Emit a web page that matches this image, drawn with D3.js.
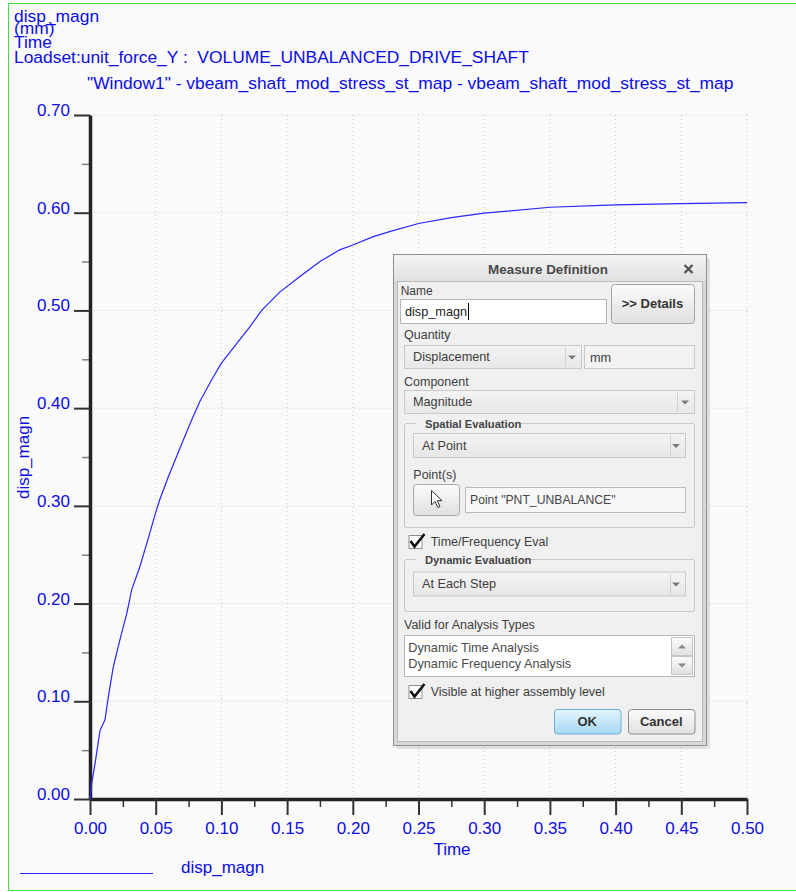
<!DOCTYPE html>
<html>
<head>
<meta charset="utf-8">
<script src="https://cdn.jsdelivr.net/npm/d3@7"></script>
<style>
    body { margin: 0; background: #ffffff; }
    svg text { font-family: "Liberation Sans", Arial, sans-serif; }
</style>
</head>
<body>
<div id="chart"></div>
<script>
// values
const timeValues = [0, 0.0013, 0.0038, 0.0076, 0.0114, 0.014, 0.0177, 0.0228, 0.028, 0.0317, 0.038,
    0.0444, 0.0495, 0.053, 0.06, 0.07, 0.078, 0.0837, 0.0926, 0.100, 0.1116, 0.1218, 0.1306,
    0.1446, 0.160, 0.175, 0.190, 0.200, 0.2156, 0.228, 0.25, 0.275, 0.30, 0.35, 0.40, 0.45, 0.50];
const dispValues = [0, 0.016, 0.036, 0.070, 0.081, 0.105, 0.135, 0.163, 0.190, 0.214, 0.238,
    0.267, 0.291, 0.306, 0.331, 0.364, 0.390, 0.407, 0.429, 0.446, 0.466, 0.4835, 0.500,
    0.519, 0.535, 0.550, 0.562, 0.567, 0.5755, 0.5806, 0.589, 0.595, 0.5995, 0.6056, 0.608, 0.6094, 0.6104];

const xTicks = [0.00, 0.05, 0.10, 0.15, 0.20, 0.25, 0.30, 0.35, 0.40, 0.45, 0.50];
const xMinorTicks = [0.025, 0.075, 0.125, 0.175, 0.225, 0.275, 0.325, 0.375, 0.425, 0.475];
const yTicks = [0.00, 0.10, 0.20, 0.30, 0.40, 0.50, 0.60, 0.70];
const yMinorTicks = [0.05, 0.15, 0.25, 0.35, 0.45, 0.55, 0.65];

const headerLines = ["disp_magn", "(mm)", "Time", "Loadset:unit_force_Y :  VOLUME_UNBALANCED_DRIVE_SHAFT"];
const plotTitle = "\"Window1\" - vbeam_shaft_mod_stress_st_map - vbeam_shaft_mod_stress_st_map";
const seriesName = "disp_magn";
const xLabel = "Time";
const yLabel = "disp_magn";

const blue = "#0c0ce6";
const W = 796, H = 892;

const svg = d3.select("#chart").append("svg")
    .attr("width", W)
    .attr("height", H);

const defs = svg.append("defs");
function grad(id, top, bottom) {
    let g = defs.append("linearGradient").attr("id", id)
        .attr("x1", 0).attr("y1", 0).attr("x2", 0).attr("y2", 1);
    g.append("stop").attr("offset", "0%").attr("stop-color", top);
    g.append("stop").attr("offset", "100%").attr("stop-color", bottom);
}
grad("gTitle", "#f5f5f5", "#e0e0e0");
grad("gBtn", "#fbfbfb", "#e0e0e0");
grad("gOk", "#e4f5fd", "#a6d7f4");
grad("gDrop", "#f4f4f4", "#e7e7e7");

// frame
svg.append("rect")
    .attr("x", 8.5).attr("y", 3.5)
    .attr("width", 820).attr("height", 887)
    .attr("fill", "#fafafa")
    .attr("stroke", "#44dd44");

// header text (lines overlap like the original)
svg.append("g").selectAll("text")
    .data(headerLines)
    .join("text")
    .attr("x", 14)
    .attr("y", (d, i) => [21.5, 34, 48, 62.5][i])
    .attr("fill", blue)
    .attr("font-size", 17.4)
    .style("white-space", "pre")
    .text(d => d);

svg.append("text")
    .attr("x", 87).attr("y", 88.5)
    .attr("fill", blue)
    .attr("font-size", 17.4)
    .text(plotTitle);

// scales
const x = d3.scaleLinear().domain([0, 0.5]).range([90, 747]);
const y = d3.scaleLinear().domain([0, 0.7]).range([799, 115]);

// grid
const grid = svg.append("g").attr("stroke", "#c9c9c9").attr("stroke-dasharray", "1,3");
grid.selectAll(".vg").data(xTicks.slice(1)).join("line")
    .attr("x1", d => x(d)).attr("x2", d => x(d))
    .attr("y1", y(0.7)).attr("y2", y(0));
grid.selectAll(".hg").data(yTicks.slice(1)).join("line")
    .attr("x1", x(0)).attr("x2", x(0.5))
    .attr("y1", d => y(d)).attr("y2", d => y(d));

// minor ticks
svg.append("g")
    .attr("transform", "translate(" + x(0) + ",0)")
    .call(d3.axisLeft(y).tickValues(yMinorTicks).tickSize(8).tickFormat(""))
    .call(g => g.select(".domain").remove())
    .call(g => g.selectAll("line").attr("stroke", "#808080").attr("stroke-width", 1.5));
svg.append("g")
    .attr("transform", "translate(0," + y(0) + ")")
    .call(d3.axisBottom(x).tickValues(xMinorTicks).tickSize(8).tickFormat(""))
    .call(g => g.select(".domain").remove())
    .call(g => g.selectAll("line").attr("stroke", "#333").attr("stroke-width", 1.5));

// major axes
const yAxis = svg.append("g")
    .attr("transform", "translate(" + x(0) + ",0)")
    .call(d3.axisLeft(y).tickValues(yTicks).tickSize(16).tickSizeOuter(0).tickPadding(4).tickFormat(d3.format(".2f")));
const xAxis = svg.append("g")
    .attr("transform", "translate(0," + y(0) + ")")
    .call(d3.axisBottom(x).tickValues(xTicks).tickSize(16).tickSizeOuter(0).tickPadding(7).tickFormat(d3.format(".2f")));

[yAxis, xAxis].forEach(a => {
    a.select(".domain").attr("stroke", "#222").attr("stroke-width", 3.5);
    a.selectAll(".tick line").attr("stroke", "#333").attr("stroke-width", 2);
    a.selectAll(".tick text")
        .attr("fill", blue)
        .attr("font-size", 17)
        .attr("font-family", "Liberation Sans, Arial, sans-serif");
});
yAxis.selectAll(".tick text").attr("dy", "0.03em");

// axis titles
svg.append("text")
    .attr("x", 452).attr("y", 855)
    .attr("text-anchor", "middle")
    .attr("fill", blue).attr("font-size", 17)
    .text(xLabel);
svg.append("text")
    .attr("transform", "translate(29,457.5) rotate(-90)")
    .attr("text-anchor", "middle")
    .attr("fill", blue).attr("font-size", 17)
    .text(yLabel);

// curve
const points = timeValues.map((t, i) => ({t: t, v: dispValues[i]}));
svg.append("path")
    .datum(points)
    .attr("fill", "none")
    .attr("stroke", "#2626ff")
    .attr("stroke-width", 1.2)
    .attr("d", d3.line().x(d => x(d.t)).y(d => y(d.v)));

// legend
svg.append("line")
    .attr("x1", 20).attr("x2", 153)
    .attr("y1", 873.5).attr("y2", 873.5)
    .attr("stroke", "#2626ff").attr("stroke-width", 1.2);
svg.append("text")
    .attr("x", 181).attr("y", 873)
    .attr("fill", blue).attr("font-size", 17)
    .text(seriesName);

/* ---------- Measure Definition dialog ---------- */
const dlg = svg.append("g");
const txtCol = "#3d3d3d";

function rect(x0, y0, w, h, fill, stroke, rx) {
    return dlg.append("rect")
        .attr("x", x0).attr("y", y0).attr("width", w).attr("height", h)
        .attr("rx", rx || 0)
        .attr("fill", fill).attr("stroke", stroke || "none");
}
function label(x0, yc, txt, size, bold, col) {
    return dlg.append("text")
        .attr("x", x0).attr("y", yc).attr("dy", "0.35em")
        .attr("font-size", size || 12.5)
        .attr("font-weight", bold ? "bold" : "normal")
        .attr("fill", col || txtCol)
        .text(txt);
}
function arrowDown(cx, cy) {
    dlg.append("path")
        .attr("d", "M" + (cx - 4) + "," + (cy - 2) + "L" + (cx + 4) + "," + (cy - 2) + "L" + cx + "," + (cy + 2) + "Z")
        .attr("fill", "#7a7a7a");
}
function dropdown(x0, y0, w, h, txt, sepX) {
    rect(x0 + 0.5, y0 + 0.5, w, h, "url(#gDrop)", "#c9c9c9");
    label(x0 + 9, y0 + h / 2 + 0.5, txt, 12.7);
    if (sepX) {
        dlg.append("line").attr("x1", sepX).attr("x2", sepX)
            .attr("y1", y0 + 2).attr("y2", y0 + h - 1).attr("stroke", "#d2d2d2");
    }
    arrowDown(x0 + w - 9, y0 + h / 2 + 1);
}
function checkbox(x0, y0) {
    rect(x0 + 0.5, y0 + 0.5, 13, 13, "#ffffff", "#8e8f8f");
    dlg.append("path")
        .attr("d", "M" + (x0 + 2) + "," + (y0 + 6) + "L" + (x0 + 6) + "," + (y0 + 11.5) + "L" + (x0 + 16) + "," + (y0 - 1))
        .attr("fill", "none").attr("stroke", "#111").attr("stroke-width", 2.6);
}
function button(x0, y0, w, h, txt, fill, stroke) {
    rect(x0 + 0.5, y0 + 0.5, w, h, fill, stroke, 3);
    dlg.append("text")
        .attr("x", x0 + w / 2).attr("y", y0 + h / 2).attr("dy", "0.35em")
        .attr("text-anchor", "middle")
        .attr("font-size", 13).attr("font-weight", "bold")
        .attr("fill", "#333")
        .text(txt);
}
function groupBox(x0, y0, w, h, txt, txtW) {
    rect(x0 + 0.5, y0 + 0.5, w, h, "none", "#c6c6c6", 2);
    rect(x0 + 12, y0 - 6, txtW, 12, "#f0f0f0");
    label(x0 + 21, y0 + 1, txt, 11.2, true, "#444");
}

// shadow + outer frame
rect(396, 258, 314, 491, "rgba(0,0,0,0.10)", "none", 2);
rect(393.5, 254.5, 313, 491, "#d8d8d8", "#8f8f8f");
rect(394, 255, 312, 26, "url(#gTitle)");
dlg.append("text")
    .attr("x", 548).attr("y", 269).attr("dy", "0.35em")
    .attr("text-anchor", "middle")
    .attr("font-size", 13.4).attr("font-weight", "bold")
    .attr("fill", "#4a4a4a")
    .text("Measure Definition");
dlg.append("path")
    .attr("d", "M684.5,265L692.5,273M692.5,265L684.5,273")
    .attr("stroke", "#555").attr("stroke-width", 2.4);
rect(397.5, 281.5, 305, 460, "#f0f0f0", "#b9b9b9");

// name
label(400.7, 291, "Name", 12);
rect(400.5, 299.5, 206, 24, "#ffffff", "#b4b6bb");
label(405, 312, "disp_magn", 12.7, false, "#222");
dlg.append("line").attr("x1", 468.5).attr("x2", 468.5).attr("y1", 303).attr("y2", 320)
    .attr("stroke", "#000").attr("stroke-width", 1);
button(611, 284, 83, 39, ">> Details", "url(#gBtn)", "#a3a3a3");

// quantity
label(404, 335, "Quantity");
dropdown(404, 345, 177, 23, "Displacement", 565.5);
rect(584.5, 345.5, 110, 23, "#f2f2f2", "#c9c9c9");
label(590, 357.5, "mm", 12.7);

// component
label(404, 382, "Component");
dropdown(404, 390, 290, 23, "Magnitude", 677.5);

// spatial evaluation group
groupBox(404, 423, 290, 104, "Spatial Evaluation", 104);
dropdown(413, 433, 272, 24, "At Point", 670.5);
label(413.3, 475, "Point(s)");
rect(413.5, 484.5, 46, 31, "url(#gBtn)", "#a9a9a9", 3);
dlg.append("path")
    .attr("d", "M431.5,490.5L431.5,505L435,501.5L437.8,507.5L440,506.5L437.3,500.7L442,500.7Z")
    .attr("fill", "#ffffff").attr("stroke", "#333").attr("stroke-width", 1);
rect(465.5, 487.5, 220, 25, "#f7f7f7", "#bcbcbc");
label(470, 500, "Point \"PNT_UNBALANCE\"", 12.2, false, "#444");

// time / frequency
checkbox(408.5, 535);
label(430.7, 542, "Time/Frequency Eval");

// dynamic evaluation group
groupBox(404, 559, 290, 52, "Dynamic Evaluation", 104);
dropdown(413, 571.5, 272, 24, "At Each Step", 670.5);

// analysis types
label(404, 624.5, "Valid for Analysis Types");
rect(404.5, 635.5, 290, 41, "#ffffff", "#b4b4b4");
label(408.3, 647.5, "Dynamic Time Analysis", 12.7, false, "#4a4a4a");
label(408.3, 664, "Dynamic Frequency Analysis", 12.7, false, "#4a4a4a");
rect(671.5, 637.5, 21, 18, "url(#gBtn)", "#c4c4c4");
rect(671.5, 656.5, 21, 18, "url(#gBtn)", "#c4c4c4");
dlg.append("path").attr("d", "M678,648.5L686,648.5L682,644.5Z").attr("fill", "#8a8a8a");
dlg.append("path").attr("d", "M678,663.5L686,663.5L682,667.5Z").attr("fill", "#8a8a8a");

checkbox(408.5, 685);
label(430.7, 692, "Visible at higher assembly level");

button(554, 709, 66.5, 24.5, "OK", "url(#gOk)", "#6aaedc");
button(628, 709, 66.5, 24.5, "Cancel", "url(#gBtn)", "#8c8c8c");
</script>
</body>
</html>
